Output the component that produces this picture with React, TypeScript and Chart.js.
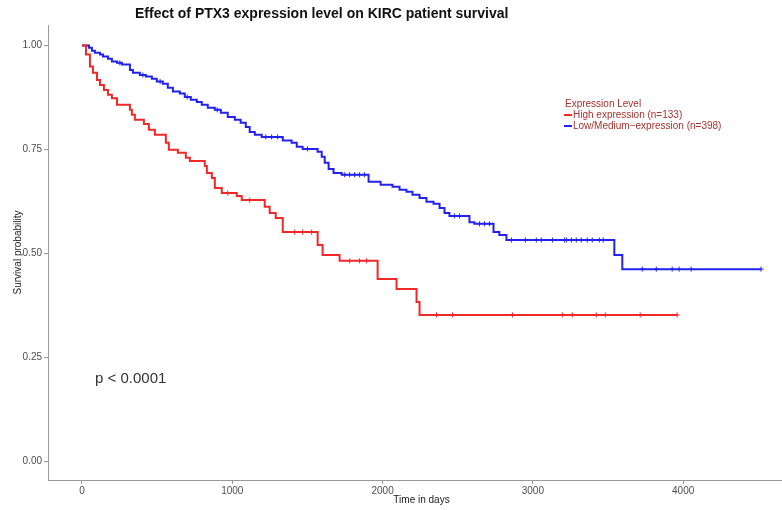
import { useEffect, useRef } from "react";
import { Chart, registerables } from "chart.js";

Chart.register(...registerables);

const chartTitle = "Effect of PTX3 expression level on KIRC patient survival";
const xTitle = "Time in days";
const yTitle = "Survival probability";
const legendTitle = "Expression Level";
const seriesLabels = ["High expression (n=133)", "Low/Medium\u2212expression (n=398)"];
const seriesColors = ["#f02828", "#2222ee"];
const pValueText = "p < 0.0001";
const xTicks = [0, 1000, 2000, 3000, 4000];
const yTicks = [0, 0.25, 0.5, 0.75, 1];

// High expression group: step times (days) and survival after each step
const highTimes = [0, 27, 53, 73, 100, 120, 146, 173, 199, 233, 319, 332, 352, 412, 445, 485, 558, 578, 638, 691, 718, 817, 831, 864, 884, 930, 1030, 1063, 1216, 1249, 1289, 1336, 1568, 1601, 1714, 1967, 2093, 2226, 2246, 3960];
const highSurv = [1.0, 0.978, 0.949, 0.934, 0.917, 0.905, 0.893, 0.881, 0.873, 0.857, 0.845, 0.833, 0.821, 0.811, 0.797, 0.785, 0.766, 0.749, 0.742, 0.73, 0.722, 0.71, 0.693, 0.681, 0.657, 0.645, 0.638, 0.628, 0.612, 0.597, 0.585, 0.551, 0.52, 0.496, 0.482, 0.438, 0.414, 0.383, 0.352, 0.352];
const highCensorTimes = [970, 1116, 1415, 1468, 1528, 1781, 1847, 1894, 2359, 2465, 2864, 3196, 3262, 3422, 3482, 3714, 3960];
const highCensorSurv = [0.645, 0.628, 0.551, 0.551, 0.551, 0.482, 0.482, 0.482, 0.352, 0.352, 0.352, 0.352, 0.352, 0.352, 0.352, 0.352, 0.352];

// Low/Medium expression group
const lowTimes = [0, 40, 47, 66, 86, 120, 140, 173, 199, 233, 266, 319, 339, 385, 425, 465, 498, 538, 571, 605, 651, 684, 724, 764, 797, 837, 884, 924, 970, 1017, 1056, 1090, 1116, 1150, 1196, 1336, 1395, 1429, 1468, 1568, 1595, 1615, 1641, 1674, 1728, 1907, 1987, 2066, 2113, 2159, 2199, 2246, 2292, 2339, 2379, 2412, 2445, 2578, 2611, 2738, 2777, 2824, 3542, 3595, 4518];
const lowSurv = [1.0, 1.0, 0.994, 0.987, 0.982, 0.978, 0.973, 0.968, 0.961, 0.958, 0.954, 0.941, 0.934, 0.929, 0.925, 0.92, 0.913, 0.908, 0.898, 0.889, 0.884, 0.876, 0.869, 0.864, 0.857, 0.85, 0.845, 0.838, 0.828, 0.821, 0.814, 0.804, 0.792, 0.785, 0.78, 0.771, 0.766, 0.756, 0.751, 0.744, 0.732, 0.718, 0.703, 0.693, 0.689, 0.672, 0.665, 0.66, 0.653, 0.648, 0.641, 0.633, 0.624, 0.619, 0.609, 0.597, 0.59, 0.575, 0.571, 0.551, 0.544, 0.532, 0.496, 0.462, 0.462];
const lowCensorTimes = [252, 405, 520, 700, 900, 1223, 1262, 1302, 1500, 1748, 1781, 1814, 1847, 1880, 2478, 2512, 2645, 2678, 2711, 2857, 2950, 3023, 3056, 3130, 3209, 3223, 3256, 3289, 3322, 3362, 3395, 3442, 3468, 3728, 3821, 3927, 3973, 4053, 4518];
const lowCensorSurv = [0.958, 0.929, 0.913, 0.876, 0.845, 0.78, 0.78, 0.78, 0.751, 0.689, 0.689, 0.689, 0.689, 0.689, 0.59, 0.59, 0.571, 0.571, 0.571, 0.532, 0.532, 0.532, 0.532, 0.532, 0.532, 0.532, 0.532, 0.532, 0.532, 0.532, 0.532, 0.532, 0.532, 0.462, 0.462, 0.462, 0.462, 0.462, 0.462];

const FONT = '"Liberation Sans", Arial, Helvetica, sans-serif';

const toPoints = (xs: number[], ys: number[]) => xs.map((x, i) => ({ x, y: ys[i] }));

const annotationPlugin = {
  id: "annotations",
  afterDraw(chart: any) {
    const ctx = chart.ctx as CanvasRenderingContext2D;
    ctx.save();
    ctx.textBaseline = "middle";
    ctx.textAlign = "left";
    // title
    ctx.fillStyle = "#111";
    ctx.font = `bold 14px ${FONT}`;
    ctx.fillText(chartTitle, 135, 14);
    // p value
    ctx.fillStyle = "#333";
    ctx.font = `15px ${FONT}`;
    ctx.fillText(pValueText, 95, 379);
    // legend
    const legColor = "#a8322d";
    ctx.font = `10px ${FONT}`;
    ctx.fillStyle = legColor;
    ctx.fillText(legendTitle, 565, 104);
    seriesLabels.forEach((lab, i) => {
      const y = 115 + i * 11;
      ctx.strokeStyle = seriesColors[i];
      ctx.lineWidth = 2;
      ctx.beginPath();
      ctx.moveTo(564, y);
      ctx.lineTo(572, y);
      ctx.stroke();
      ctx.fillStyle = legColor;
      ctx.fillText(lab, 573, y);
    });
    ctx.restore();
  },
};

export default function App() {
  const ref = useRef<HTMLCanvasElement | null>(null);
  useEffect(() => {
    if (!ref.current) return;
    const chart = new Chart(ref.current, {
      type: "line",
      data: {
        datasets: [
          {
            label: seriesLabels[0],
            data: toPoints(highTimes, highSurv),
            borderColor: seriesColors[0],
            borderWidth: 2,
            pointRadius: 0,
            stepped: "before",
            fill: false,
          },
          {
            label: seriesLabels[1],
            data: toPoints(lowTimes, lowSurv),
            borderColor: seriesColors[1],
            borderWidth: 2,
            pointRadius: 0,
            stepped: "before",
            fill: false,
          },
          {
            label: "High censored",
            type: "scatter",
            data: toPoints(highCensorTimes, highCensorSurv),
            borderColor: seriesColors[0],
            backgroundColor: seriesColors[0],
            pointStyle: "cross",
            pointRadius: 2.5,
            borderWidth: 1,
            showLine: false,
          },
          {
            label: "Low censored",
            type: "scatter",
            data: toPoints(lowCensorTimes, lowCensorSurv),
            borderColor: seriesColors[1],
            backgroundColor: seriesColors[1],
            pointStyle: "cross",
            pointRadius: 2.5,
            borderWidth: 1,
            showLine: false,
          },
        ] as any,
      },
      options: {
        responsive: false,
        animation: false,
        layout: { padding: { top: 25, right: 4, left: 0, bottom: 0 } },
        plugins: { legend: { display: false }, tooltip: { enabled: false }, title: { display: false } },
        scales: {
          x: {
            type: "linear",
            min: -226,
            max: 4744,
            afterBuildTicks: (s: any) => {
              s.ticks = xTicks.map((v) => ({ value: v }));
            },
            afterFit: (s: any) => {
              s.height = 30;
            },
            ticks: { color: "#4d4d4d", font: { size: 10, family: FONT }, padding: 1, maxRotation: 0, callback: (v: any) => String(v) },
            grid: { drawOnChartArea: false, drawTicks: true, tickLength: 4, color: "#999" },
            border: { display: true, color: "#999", width: 1 },
            title: { display: true, text: xTitle, color: "#222", font: { size: 10, family: FONT }, padding: { top: 0, bottom: 4 } },
          },
          y: {
            type: "linear",
            min: -0.045,
            max: 1.049,
            afterBuildTicks: (s: any) => {
              s.ticks = yTicks.map((v) => ({ value: v }));
            },
            afterFit: (s: any) => {
              s.width = 48;
            },
            ticks: { color: "#4d4d4d", font: { size: 10, family: FONT }, padding: 2, callback: (v: any) => Number(v).toFixed(2) },
            grid: { drawOnChartArea: false, drawTicks: true, tickLength: 4, color: "#999" },
            border: { display: true, color: "#999", width: 1 },
            title: { display: true, text: yTitle, color: "#222", font: { size: 10, family: FONT }, padding: { top: 12, bottom: 0 } },
          },
        },
      } as any,
      plugins: [annotationPlugin],
    });
    return () => chart.destroy();
  }, []);
  return (
    <div style={{ position: "fixed", left: 0, top: 0, width: 782, height: 510, overflow: "hidden", background: "#fff" }}>
      <canvas ref={ref} width={800} height={510} style={{ display: "block" }} />
    </div>
  );
}
